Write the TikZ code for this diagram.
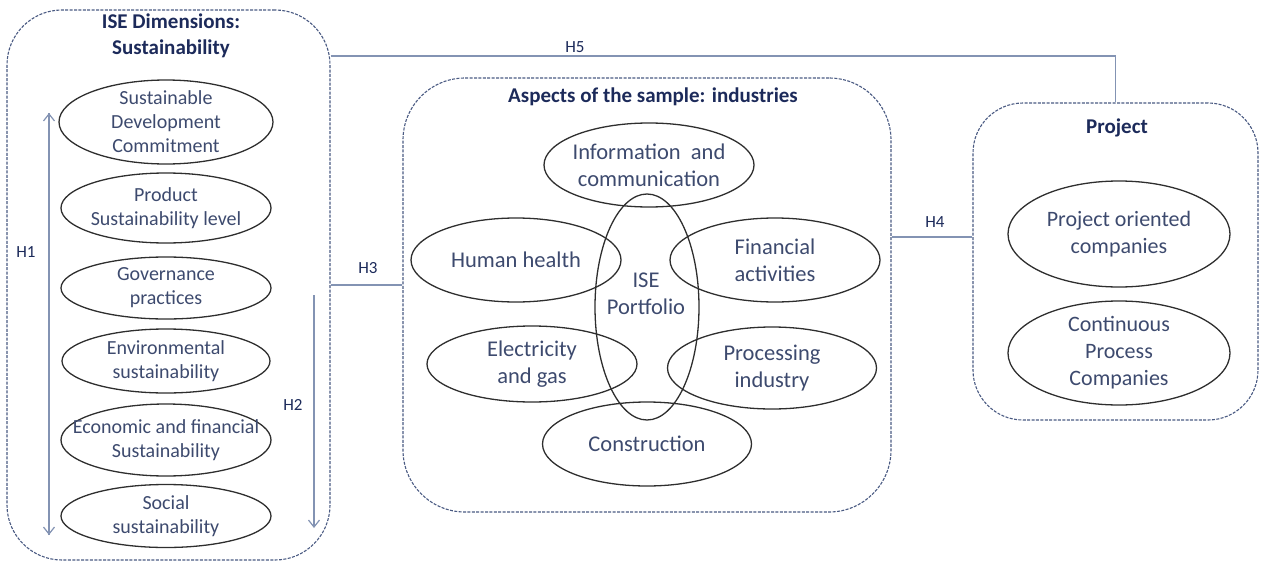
\documentclass[tikz,border=0pt]{standalone}
\usepackage{fontspec}
\setmainfont{Carlito}
\usetikzlibrary{shapes.geometric,arrows.meta}
\definecolor{boxc}{HTML}{4A5A82}
\definecolor{txtc}{HTML}{3D4A6E}
\definecolor{ttlc}{HTML}{1C2A5A}
\definecolor{conc}{HTML}{8393B3}
\definecolor{ellc}{HTML}{2E2E2E}
\tikzset{
  grp/.style={draw=boxc, dash pattern=on 3pt off 1.4pt, line width=1.1pt, rectangle, inner sep=0},
  ell/.style={draw=ellc, line width=1.3pt, ellipse, inner xsep=-80pt, inner ysep=-40pt, align=center, text=txtc},
  ellL/.style={ell, font=\fontsize{20}{24}\selectfont},
  ellM/.style={ell, font=\fontsize{22.5}{27}\selectfont},
  ttl/.style={text=ttlc, font=\fontsize{21}{25}\selectfont\bfseries, align=center, inner sep=0},
  hlab/.style={text=ttlc, font=\fontsize{17}{20}\selectfont, inner sep=0},
  conn/.style={draw=conc, line width=1.2pt},
  tip/.style={-{Straight Barb[length=7pt,width=11pt,line width=1.2pt]}}
}
\begin{document}
\begin{tikzpicture}[x=1pt,y=-1pt]
\useasboundingbox (0,0) rectangle (1261,562);
% group boxes
\node[grp, rounded corners=55pt, minimum width=323pt, minimum height=550pt] (L) at (168.5,285) {};
\node[grp, rounded corners=62pt, minimum width=488pt, minimum height=434pt] (M) at (647,295) {};
\node[grp, rounded corners=50pt, minimum width=285pt, minimum height=317pt] (P) at (1115.5,261.5) {};
% titles
\node[ttl] (Lt) at (171,36) {ISE Dimensions:\\[1pt]Sustainability};
\node[ttl] (Mt) at (653,97) {Aspects of the sample: industries};
\node[ttl] (Pt) at (1117,128) {Project};
% left column
\node[ellL, minimum width=214pt, minimum height=84pt] (e1) at (166,122) {Sustainable\\Development\\Commitment};
\node[ellL, minimum width=210pt, minimum height=70pt] (e2) at (166,208) {Product\\Sustainability level};
\node[ellL, minimum width=210pt, minimum height=62pt] (e3) at (166,288) {Governance\\practices};
\node[ellL, minimum width=208pt, minimum height=64pt] (e4) at (166,361) {Environmental\\sustainability};
\node[ellL, minimum width=210pt, minimum height=72pt] (e5) at (166,440) {Economic and financial\\Sustainability};
\node[ellL, minimum width=210pt, minimum height=63pt] (e6) at (166,516) {Social\\sustainability};
% middle
\node[ellM, minimum width=210pt, minimum height=84pt] (info) at (649,165) {Information~ and\\communication};
\node[ellM, minimum width=104pt, minimum height=226pt] (pf) at (647,307) {};
\node[text=txtc, font=\fontsize{22.5}{27}\selectfont, align=center, inner sep=0] (pft) at (646,294) {ISE\\Portfolio};
\node[ellM, minimum width=210pt, minimum height=84pt] (hh) at (516,260) {Human health};
\node[ellM, minimum width=210pt, minimum height=84pt] (fin) at (775,260) {Financial\\activities};
\node[ellM, minimum width=210pt, minimum height=76pt] (ele) at (532,364) {Electricity\\and gas};
\node[ellM, minimum width=209pt, minimum height=82pt] (proc) at (772,368) {Processing\\industry};
\node[ellM, minimum width=209pt, minimum height=84pt] (con) at (647,444) {Construction};
% project
\node[ellM, font=\fontsize{22}{27}\selectfont, minimum width=222pt, minimum height=106pt] (po) at (1119,234) {Project oriented\\companies};
\node[ellM, font=\fontsize{22}{27}\selectfont, minimum width=222pt, minimum height=104pt] (cp) at (1119,353) {Continuous\\Process\\Companies};
% arrows H1, H2
\coordinate (h1a) at (49,113);
\coordinate (h1b) at (49,535);
\draw[conn, tip] (h1a) -- (h1b);
\draw[conn, tip] (h1b) -- (h1a);
\coordinate (h2a) at (314,295);
\coordinate (h2b) at (314,528);
\draw[conn, tip] (h2a) -- (h2b);
% connectors
\draw[conn] (L.east) -- (L.east -| M.west);
\draw[conn] (M.east |- 0,237) -- (P.west |- 0,237);
\draw[conn] (L.east |- 0,56) -| (P.north);
% labels
\node[hlab] (H1) at (26,252) {H1};
\node[hlab] (H2) at (293,405) {H2};
\node[hlab] (H3) at (368,268) {H3};
\node[hlab] (H4) at (935,222) {H4};
\node[hlab] (H5) at (575,47) {H5};
\end{tikzpicture}
\end{document}
